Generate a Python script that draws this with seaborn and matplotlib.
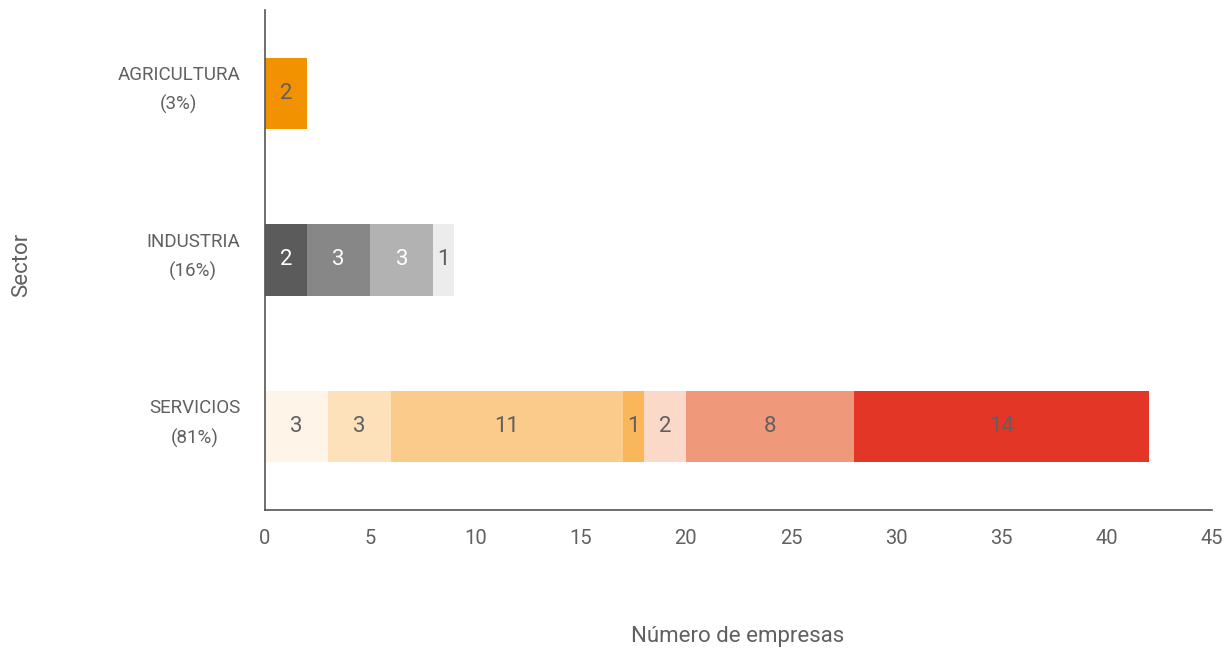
import numpy as np
import pandas as pd
import matplotlib
matplotlib.use("Agg")
import matplotlib.pyplot as plt
import seaborn as sns

# data
sectors = ["AGRICULTURA\n(3%)", "INDUSTRIA\n(16%)", "SERVICIOS\n(81%)"]
agri_values = [2]
indu_values = [2, 3, 3, 1]
serv_values = [3, 3, 11, 1, 2, 8, 14]

agri_colors = ["#f39200"]
indu_colors = ["#5b5b5c", "#878787", "#b2b2b2", "#ececec"]
serv_colors = ["#fef4e8", "#fde1ba", "#fbcb8c", "#f9b65b", "#fad9c9", "#f0997a", "#e33626"]

indu_text = ["white", "white", "white", "#606060"]

TXT = "#606060"
sns.set_theme(style="white")
plt.rcParams["font.family"] = ["Roboto", "DejaVu Sans"]

rows = []
for sec, vals, cols in zip(sectors, [agri_values, indu_values, serv_values],
                           [agri_colors, indu_colors, serv_colors]):
    ends = np.cumsum(vals)
    for i, (v, e, c) in enumerate(zip(vals, ends, cols)):
        rows.append({"sector": sec, "seg": i, "value": v, "end": e, "color": c})
df = pd.DataFrame(rows)

fig = plt.figure(figsize=(12.27, 6.54), dpi=100)
ax = fig.add_axes([0.216, 0.2202, 0.7718, 0.7645])

# stack by drawing cumulative ends, longest first
for _, r in df.sort_values("end", ascending=False).iterrows():
    sns.barplot(data=pd.DataFrame([r]), x="end", y="sector", order=sectors,
                color=r["color"], width=0.43, saturation=1, ax=ax, linewidth=0)

# segment labels
for _, r in df.iterrows():
    yi = sectors.index(r["sector"])
    tc = TXT
    if r["sector"] == sectors[1]:
        tc = indu_text[int(r["seg"])]
    ax.text(r["end"] - r["value"] / 2, yi, str(r["value"]), ha="center", va="center",
            fontsize=16, color=tc)

ax.set_xlim(0, 45)
ax.set_ylim(2.5, -0.5)
ax.set_xticks(range(0, 46, 5))
ax.set_yticks([-0.5, 0.5, 1.5, 2.5])
ax.set_yticklabels([])
ax.set_yticks(np.arange(len(sectors)) - 0.065, minor=True)
ax.set_yticklabels(sectors, minor=True)
ax.tick_params(axis="y", which="minor", length=0, pad=18, labelsize=13.5, labelcolor=TXT)
ax.tick_params(axis="y", which="major", length=6, width=1.2, color="#555555", direction="out")
ax.tick_params(axis="x", length=6, width=1.2, color="#555555", direction="out",
               labelsize=14.5, labelcolor=TXT, pad=8)
for lab in ax.get_yticklabels(minor=True):
    lab.set_horizontalalignment("right")
    lab.set_multialignment("center")
    lab.set_linespacing(1.75)

sns.despine(ax=ax)
for s in ["left", "bottom"]:
    ax.spines[s].set_color("#555555")
    ax.spines[s].set_linewidth(1.2)
ax.set_xlabel("Número de empresas", fontsize=16, color=TXT)
ax.xaxis.set_label_coords(0.4995, -0.232)
ax.set_ylabel("")
fig.text(0.018, 0.595, "Sector", rotation=90, fontsize=16, color=TXT, ha="center", va="center")

fig.savefig("out.png", dpi=100)
